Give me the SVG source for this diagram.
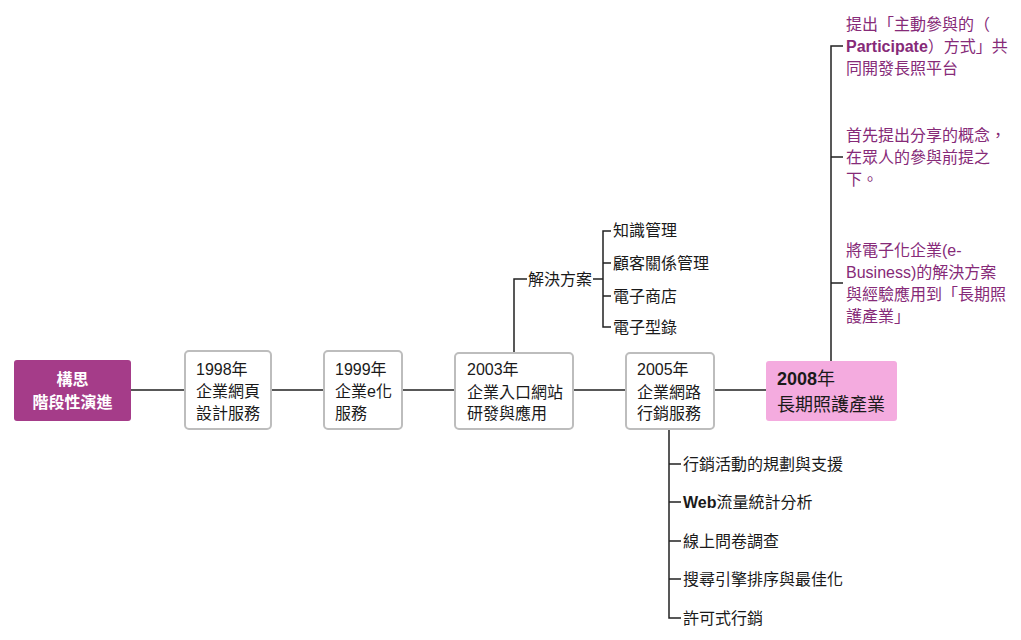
<svg xmlns="http://www.w3.org/2000/svg" width="1021" height="640" viewBox="0 0 1021 640">
<style>
text{font-family:"Liberation Sans","Noto Sans CJK TC",sans-serif;font-size:16px;fill:#1a1a1a}
.box{fill:#fff;stroke:#bdbdbd;stroke-width:2}
.root{fill:#a53c89}
.root-t{fill:#fff;font-weight:bold;font-size:16px}
.hl{fill:#f4abdf}
.hl-t{font-size:18px}
.b{font-weight:bold}
.pt{fill:#862a78}
.con{fill:none;stroke:#222;stroke-width:1.5}
</style>
<rect width="1021" height="640" fill="#fff"/>
<g id="connectors">
<path class="con" d="M131 390H185M271 390H324M402 390H455M573 390H626M714 390H766"/>
<path class="con" d="M514 353V279H527M593 279H603M611 231H603V327H611M603 263H611M603 296H611"/>
<path class="con" d="M669 429V618H681M669 464H681M669 502H681M669 541H681M669 579H681"/>
<path class="con" d="M831 361V46H843M831 157H843M831 283H843"/>
</g>
<g id="root">
<rect class="root" x="14" y="360" width="117" height="61" rx="3"/>
<text class="root-t" x="72.5" y="385" text-anchor="middle">構思</text>
<text class="root-t" x="72.5" y="408" text-anchor="middle">階段性演進</text>
</g>
<g id="n1998">
<rect class="box" x="185" y="351" width="86" height="78" rx="4"/>
<text x="196" y="375">1998年</text>
<text x="196" y="397">企業網頁</text>
<text x="196" y="419">設計服務</text>
</g>
<g id="n1999">
<rect class="box" x="324" y="351" width="78" height="78" rx="4"/>
<text x="335" y="375">1999年</text>
<text x="335" y="397">企業e化</text>
<text x="335" y="419">服務</text>
</g>
<g id="n2003">
<rect class="box" x="455" y="353" width="118" height="76" rx="4"/>
<text x="467" y="375">2003年</text>
<text x="467" y="398">企業入口網站</text>
<text x="467" y="419">研發與應用</text>
</g>
<g id="n2005">
<rect class="box" x="626" y="353" width="88" height="76" rx="4"/>
<text x="637" y="375">2005年</text>
<text x="637" y="398">企業網路</text>
<text x="637" y="419">行銷服務</text>
</g>
<g id="n2008">
<rect class="hl" x="766" y="361" width="131" height="60" rx="3"/>
<text class="hl-t" x="777" y="385"><tspan class="b">2008</tspan>年</text>
<text class="hl-t" x="777" y="411">長期照護產業</text>
</g>
<g id="solutions">
<text x="528" y="285">解決方案</text>
<text x="613" y="236">知識管理</text>
<text x="613" y="269">顧客關係管理</text>
<text x="613" y="302">電子商店</text>
<text x="613" y="333">電子型錄</text>
</g>
<g id="marketing">
<text x="683" y="470">行銷活動的規劃與支援</text>
<text x="683" y="508"><tspan class="b">Web</tspan>流量統計分析</text>
<text x="683" y="547">線上問卷調查</text>
<text x="683" y="585">搜尋引擎排序與最佳化</text>
<text x="683" y="624">許可式行銷</text>
</g>
<g id="ltc">
<text class="pt" x="846" y="30">提出「主動參與的（</text>
<text class="pt" x="846" y="52"><tspan class="b">Participate</tspan>）方式」共</text>
<text class="pt" x="846" y="74">同開發長照平台</text>
<text class="pt" x="846" y="141">首先提出分享的概念，</text>
<text class="pt" x="846" y="163">在眾人的參與前提之</text>
<text class="pt" x="846" y="185">下。</text>
<text class="pt" x="846" y="256">將電子化企業(e-</text>
<text class="pt" x="846" y="278">Business)的解決方案</text>
<text class="pt" x="846" y="300">與經驗應用到「長期照</text>
<text class="pt" x="846" y="322">護產業」</text>
</g>
</svg>
